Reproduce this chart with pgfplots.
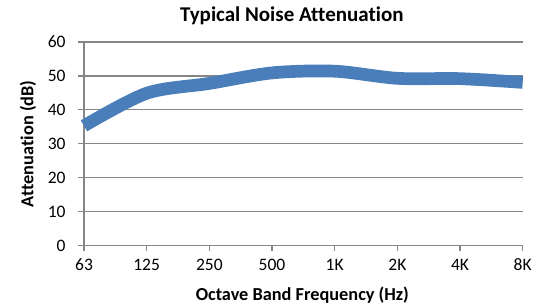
\documentclass[border=0pt]{standalone}
\usepackage{pgfplots}
\pgfplotsset{compat=1.18}
\usepackage{fontspec}
\setmainfont{Carlito}[Ligatures=NoCommon]
\definecolor{lineblue}{HTML}{4A7EBB}
\definecolor{gridgray}{HTML}{868686}
\begin{document}
\begin{tikzpicture}
\begin{axis}[
  name=ax, scale only axis, width=438.7bp, height=203.7bp,
  xmin=0, xmax=7, ymin=0, ymax=60,
  xtick={0,...,7}, xticklabels={63,125,250,500,1K,2K,4K,8K},
  ytick={0,10,...,60},
  axis x line*=bottom, axis y line*=left,
  ymajorgrids, major grid style={gridgray, line width=1.2bp},
  axis line style={gridgray, line width=1.2bp},
  tick style={gridgray, line width=1.2bp},
  major tick length=5.5bp, tick align=outside,
  /pgf/number format/assume math mode=true,
  tick label style={font=\fontsize{17.5bp}{20bp}\selectfont, text=black},
  xticklabel style={anchor=base, inner sep=0pt, yshift=-19.5bp},
  yticklabel style={anchor=east, inner sep=0pt, xshift=-12.8bp},
  clip=false,
]
\addplot[lineblue, line width=12.7bp, smooth, line cap=butt] coordinates {
  (0,35.3) (1,44.9) (2,47.8) (3,50.9) (4,51.4) (5,49.3) (6,49.2) (7,48.1)
};
\end{axis}
\node[font=\bfseries\fontsize{21bp}{25bp}\selectfont, anchor=base] at ([xshift=-11.6bp, yshift=20.3bp]ax.north) {Typical Noise Attenuation};
\node[font=\bfseries\fontsize{18.3bp}{22bp}\selectfont, anchor=base] at ([xshift=-1bp, yshift=-55bp]ax.south) {Octave Band Frequency (Hz)};
\node[font=\bfseries\fontsize{18.3bp}{22bp}\selectfont, anchor=base, rotate=90] at ([xshift=-50.7bp]ax.west) {Attenuation (dB)};
\path ([xshift=-84bp, yshift=-62.3bp]ax.south west) rectangle ([xshift=25.3bp, yshift=42bp]ax.north east);
\end{tikzpicture}
\end{document}
